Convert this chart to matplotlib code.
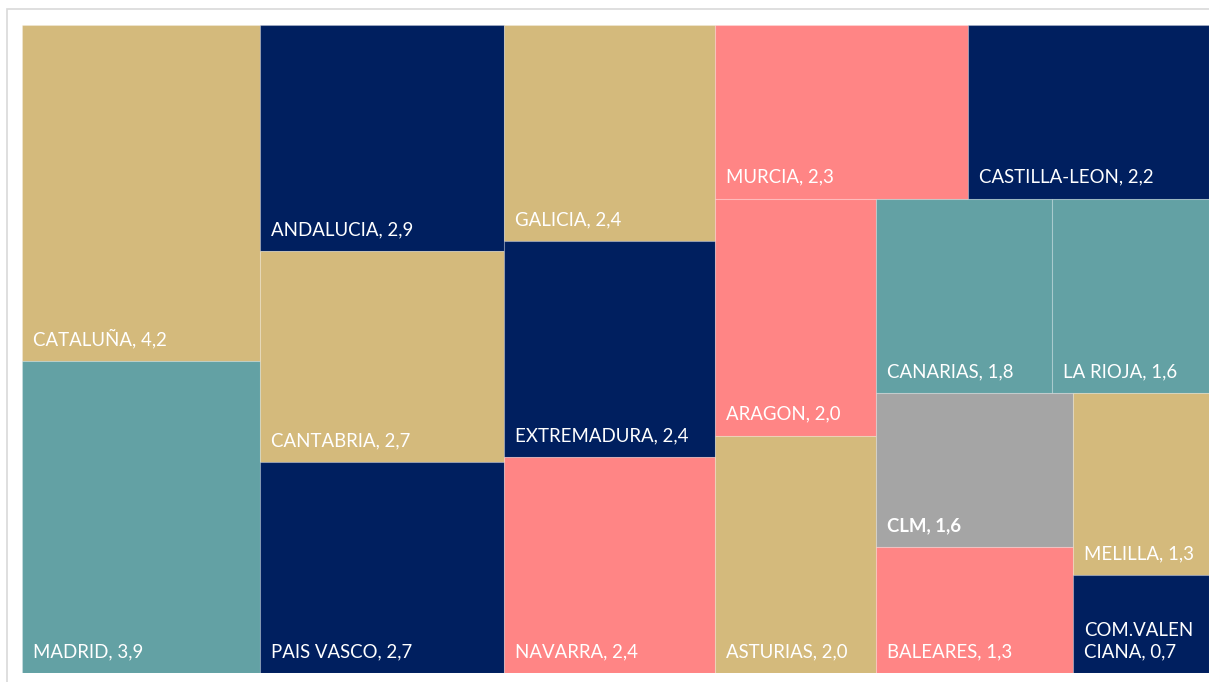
import matplotlib
matplotlib.use('Agg')
import matplotlib.pyplot as plt
from matplotlib.patches import Rectangle

# ---------- data ----------
regions = ['CATALUÑA', 'MADRID', 'ANDALUCIA', 'CANTABRIA', 'PAIS VASCO',
           'GALICIA', 'EXTREMADURA', 'NAVARRA', 'MURCIA', 'CASTILLA-LEON',
           'ARAGON', 'ASTURIAS', 'CANARIAS', 'LA RIOJA', 'CLM', 'BALEARES',
           'MELILLA', 'COM.VALEN\nCIANA']
values = [4.2, 3.9, 2.9, 2.7, 2.7, 2.4, 2.4, 2.4, 2.3, 2.2,
          2.0, 2.0, 1.8, 1.6, 1.6, 1.3, 1.3, 0.7]

TAN, NAVY, PINK, TEAL, GRAY = '#D4BA7C', '#001F5F', '#FF8585', '#63A1A4', '#A5A5A5'
colors = [TAN, TEAL, NAVY, TAN, NAVY, TAN, NAVY, PINK, PINK, NAVY,
          PINK, TAN, TEAL, TEAL, GRAY, PINK, TAN, NAVY]
bold = ['CLM']

W, H = 1187.0, 648.0


# ---------- squarified layout ----------
def worst(row, side):
    t = sum(row) / side
    return max(max(t / (v / t), (v / t) / t) for v in row)


def squarify(vals, x, y, w, h):
    rects = []
    vals = list(vals)
    while vals:
        side = min(w, h)
        row = [vals[0]]
        i = 1
        while i < len(vals) and worst(row + [vals[i]], side) <= worst(row, side):
            row.append(vals[i])
            i += 1
        vals = vals[i:]
        t = sum(row) / side
        if w >= h:
            yy = y
            for v in row:
                rects.append((x, yy, t, v / t))
                yy += v / t
            x += t
            w -= t
        else:
            xx = x
            for v in row:
                rects.append((xx, y, v / t, t))
                xx += v / t
            y += t
            h -= t
    return rects


scale = W * H / sum(values)
rects = squarify([v * scale for v in values], 0, 0, W, H)

# ---------- plot ----------
fig = plt.figure(figsize=(12.09, 6.82), dpi=100)
fig.patches.append(Rectangle((7 / 1209, -0.05), 1.1, 1 - 9 / 682 + 0.05,
                             transform=fig.transFigure, fill=False,
                             edgecolor='#D9D9D9', lw=1.2))
ax = fig.add_axes([22 / 1209, 9 / 682, W / 1209, H / 682])
ax.set_xlim(0, W)
ax.set_ylim(H, 0)
ax.axis('off')

for (x, y, w, h), name, v, c in zip(rects, regions, values, colors):
    ax.add_patch(Rectangle((x, y), w, h, facecolor=c,
                           edgecolor=(1, 1, 1, 0.22), lw=0.8))
    label = name + ', ' + f"{v:.1f}".replace('.', ',')
    ax.text(x + 11, y + h - 16, label, color='white', fontsize=13.4,
            family='Lato', fontweight='bold' if name in bold else 'normal',
            ha='left', va='baseline', linespacing=1.3)

fig.savefig('out.png', dpi=100)
